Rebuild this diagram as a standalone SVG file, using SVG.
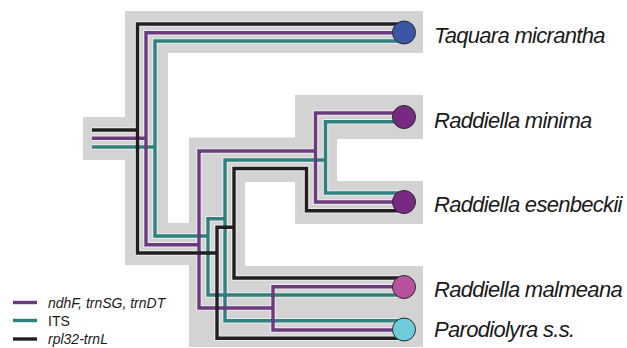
<svg xmlns="http://www.w3.org/2000/svg" width="627" height="348" viewBox="0 0 627 348">
  <style>
    .band { fill: #d3d3d3; }
    .halo { fill: none; stroke: #ececec; stroke-width: 5.6; stroke-linejoin: miter; }
    .ln { fill: none; stroke-width: 3.4; stroke-linejoin: miter; }
    .cp { stroke: #6c3b7e; }
    .its { stroke: #2f807e; }
    .rpl { stroke: #231f20; }
    .tip { stroke: #2b2b2b; stroke-width: 1; }
    .taxon { font-family: "Liberation Sans", Arial, sans-serif; font-style: italic; font-size: 22px; letter-spacing: -0.7px; fill: #1a1a1a; }
    .key { font-family: "Liberation Sans", Arial, sans-serif; font-size: 14px; fill: #1a1a1a; }
    .it { font-style: italic; }
  </style>

  <!-- grey band behind the species tree -->
  <path class="band" d="M83,117 H125 V11 H423 V53 H168 V223 H189 V137.5 H295 V95 H423 V139 H337 V181 H423 V224 H295 V182 H245 V266 H423 V347 H189 V265 H125 V160 H83 Z"/>

  <g id="connectors">
    <defs>
      <path id="cp1" d="M92,138.3 H146"/>
      <path id="cp2" d="M404,32.7 H146 V244.7 H199"/>
      <path id="cp3" d="M315.5,151 H199 V308 H273"/>
      <path id="cp4" d="M404,113 H315.5 V202 H404"/>
      <path id="cp5" d="M404,286.7 H273 V330 H404"/>
      <path id="its1" d="M92,147 H155"/>
      <path id="its2" d="M404,41 H155 V236 H208"/>
      <path id="its3" d="M225,218.7 H208 V295 H404"/>
      <path id="its4" d="M325.5,160 H225 V320.7 H404"/>
      <path id="its5" d="M404,121.7 H325.5 V193 H404"/>
      <path id="rpl1" d="M92,130 H137.5"/>
      <path id="rpl2" d="M404,24 H137.5 V253 H217"/>
      <path id="rpl3" d="M234,227.3 H217 V338.3 H404"/>
      <path id="rpl4" d="M404,210.7 H306.5 V168.5 H234 V278 H404"/>
    </defs>
    <g class="halo">
      <use href="#cp1"/><use href="#cp2"/><use href="#cp3"/><use href="#cp4"/><use href="#cp5"/>
      <use href="#its1"/><use href="#its2"/><use href="#its3"/><use href="#its4"/><use href="#its5"/>
      <use href="#rpl1"/><use href="#rpl2"/><use href="#rpl3"/><use href="#rpl4"/>
    </g>
    <g class="ln its">
      <use href="#its1"/><use href="#its2"/><use href="#its3"/><use href="#its4"/><use href="#its5"/>
    </g>
    <g class="ln cp">
      <use href="#cp1"/><use href="#cp2"/><use href="#cp3"/><use href="#cp4"/><use href="#cp5"/>
    </g>
    <g class="ln rpl">
      <use href="#rpl1"/><use href="#rpl2"/><use href="#rpl3"/><use href="#rpl4"/>
    </g>
  </g>

  <g id="taquara-micrantha">
    <circle class="tip" cx="404" cy="32.5" r="11.5" fill="#3b56a7"/>
    <text class="taxon" x="434" y="43">Taquara micrantha</text>
  </g>
  <g id="raddiella-minima">
    <circle class="tip" cx="404" cy="117" r="11.5" fill="#782a83"/>
    <text class="taxon" x="434" y="128">Raddiella minima</text>
  </g>
  <g id="raddiella-esenbeckii">
    <circle class="tip" cx="404" cy="202" r="11.5" fill="#782a83"/>
    <text class="taxon" x="434" y="212">Raddiella esenbeckii</text>
  </g>
  <g id="raddiella-malmeana">
    <circle class="tip" cx="404" cy="287" r="11.5" fill="#b8529e"/>
    <text class="taxon" x="434" y="297">Raddiella malmeana</text>
  </g>
  <g id="parodiolyra">
    <circle class="tip" cx="404" cy="329.5" r="11.5" fill="#6dcbdc"/>
    <text class="taxon" x="434" y="337">Parodiolyra s.s.</text>
  </g>

  <g id="legend">
    <line class="ln cp" x1="13" y1="302.5" x2="37" y2="302.5"/>
    <text class="key it" x="48" y="307.5">ndhF, trnSG, trnDT</text>
    <line class="ln its" x1="13" y1="320.5" x2="37" y2="320.5"/>
    <text class="key" x="48" y="325.5">ITS</text>
    <line class="ln rpl" x1="13" y1="339" x2="37" y2="339"/>
    <text class="key it" x="48" y="344">rpl32-trnL</text>
  </g>
</svg>
